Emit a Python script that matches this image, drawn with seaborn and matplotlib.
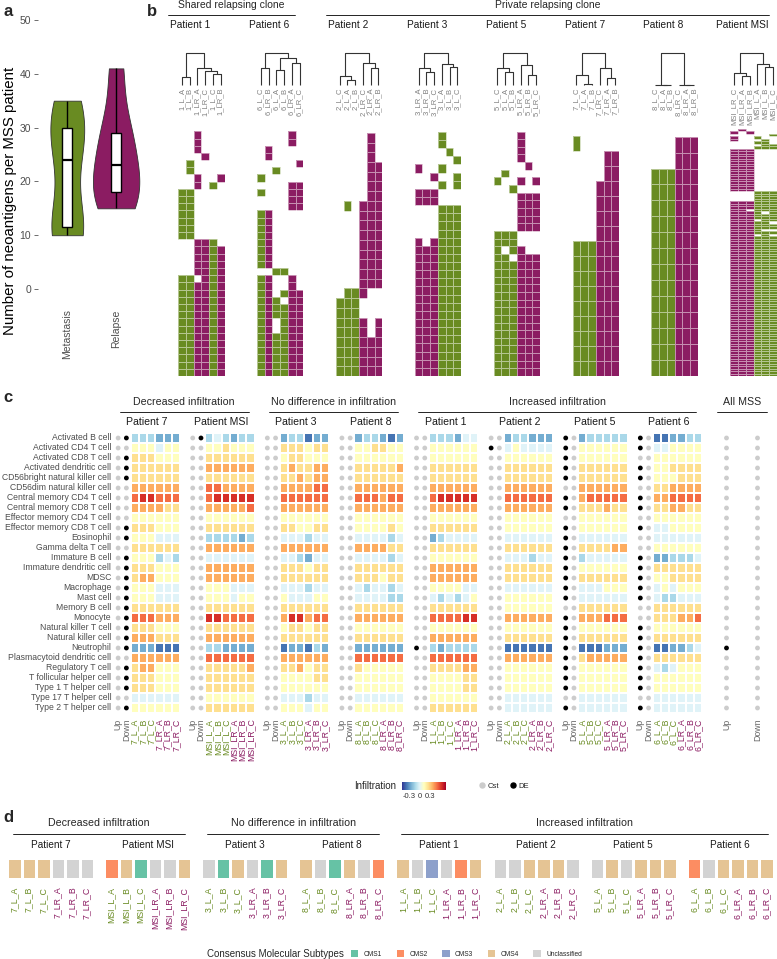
import numpy as np
import pandas as pd
import matplotlib
matplotlib.use('Agg')
import matplotlib.pyplot as plt
from matplotlib.colors import ListedColormap
from matplotlib.lines import Line2D
from matplotlib.patches import Patch
import seaborn as sns

sns.set_theme(style='white')
plt.rcParams['font.family'] = ['Liberation Sans', 'DejaVu Sans']
plt.rcParams['axes.unicode_minus'] = False

GREEN = '#698B22'
PURPLE = '#8B1C62'
GREY_TXT = '#4D4D4D'

# ---- panel a : neoantigens per MSS patient
meta_counts = [10, 10, 13, 24, 28, 32, 35]
relapse_counts = [15, 17, 19, 23, 27, 31, 41]

# ---- panel b : neoantigen presence per sample (run length: pattern, n rows)
b_groups = [('Shared relapsing clone', ['Patient 1', 'Patient 6']),
            ('Private relapsing clone', ['Patient 2', 'Patient 3', 'Patient 5',
                                         'Patient 7', 'Patient 8', 'Patient MSI'])]
b_samples = {
    'Patient 1': ['1_L_A', '1_L_B', '1_LR_A', '1_LR_C', '1_L_C', '1_LR_B'],
    'Patient 6': ['6_L_C', '6_LR_B', '6_L_A', '6_L_B', '6_LR_A', '6_LR_C'],
    'Patient 2': ['2_L_C', '2_L_A', '2_L_B', '2_LR_C', '2_LR_A', '2_LR_B'],
    'Patient 3': ['3_LR_A', '3_LR_B', '3_LR_C', '3_L_A', '3_L_B', '3_L_C'],
    'Patient 5': ['5_L_C', '5_L_A', '5_L_B', '5_LR_A', '5_LR_B', '5_LR_C'],
    'Patient 7': ['7_L_C', '7_L_A', '7_L_B', '7_LR_C', '7_LR_A', '7_LR_B'],
    'Patient 8': ['8_L_C', '8_L_A', '8_L_B', '8_LR_C', '8_LR_A', '8_LR_B'],
    'Patient MSI': ['MSI_LR_C', 'MSI_LR_A', 'MSI_LR_B', 'MSI_L_A', 'MSI_L_B', 'MSI_L_C'],
}
# dendrograms: [left, right, height], leaves are column indices
b_trees = {
    'Patient 1': [[0, 1, 0.25], [2, [3, [4, 5, 0.34], 0.44], 0.53], 1.0],
    'Patient 6': [[0, 1, 0.53], [[2, 3, 0.47], [4, 5, 0.69], 0.84], 1.0],
    'Patient 2': [[0, [1, 2, 0.16], 0.28], [3, [4, 5, 0.53], 0.68], 1.0],
    'Patient 3': [[0, [1, 2, 0.41], 0.52], [3, [4, 5, 0.57], 0.67], 1.0],
    'Patient 5': [[0, [1, 2, 0.41], 0.52], [3, [4, 5, 0.31], 0.62], 1.0],
    'Patient 7': [[0, [1, 2, 0.02], 0.31], [3, [4, 5, 0.21], 0.52], 1.0],
    'Patient 8': [[0, [1, 2, 0.0], 0.0], [3, [4, 5, 0.0], 0.0], 1.0],
    'Patient MSI': [[0, [1, 2, 0.28], 0.37], [3, [4, 5, 0.57], 0.67], 1.0],
}
b_rows = {
    'Patient 1': [('001000', 3), ('000100', 1), ('010000', 2), ('001001', 1), ('001010', 1),
                  ('110000', 7), ('001110', 1), ('001111', 4), ('110111', 1), ('111111', 13)],
    'Patient 6': [('000010', 2), ('010000', 2), ('000001', 1), ('001000', 1), ('100000', 1),
                  ('000011', 1), ('100011', 1), ('000011', 2), ('110000', 8), ('001100', 1),
                  ('110010', 2), ('110111', 1), ('111011', 1), ('111111', 2), ('110111', 2),
                  ('111111', 6)],
    'Patient 2': [('000010', 3), ('000011', 4), ('010111', 1), ('000111', 8), ('011100', 1),
                  ('111000', 2), ('111101', 2), ('111111', 4)],
    'Patient 3': [('000100', 2), ('000010', 1), ('000001', 1), ('100100', 1), ('001001', 1),
                  ('000101', 1), ('111000', 2), ('000111', 4), ('101111', 1), ('111111', 16)],
    'Patient 5': [('000100', 4), ('000010', 1), ('010000', 1), ('100101', 1), ('001000', 1),
                  ('000111', 5), ('111000', 2), ('101100', 1), ('110111', 1), ('111111', 15)],
    'Patient 7': [('100000', 1), ('000011', 2), ('000111', 4), ('111111', 9)],
    'Patient 8': [('000111', 2), ('111111', 13)],
    'Patient MSI': [('010000', 1), ('101000', 1), ('000001', 1), ('100100', 1), ('100010', 1),
                    ('000110', 1), ('000011', 1), ('000111', 1), ('111000', 17), ('000111', 4),
                    ('111111', 3), ('110111', 1), ('111101', 1), ('111111', 2), ('111011', 1),
                    ('111110', 1), ('111111', 2), ('111100', 1), ('111111', 1), ('111010', 1),
                    ('111111', 56)],
}

# ---- panel c : immune infiltration
cell_types = ['Activated B cell', 'Activated CD4 T cell', 'Activated CD8 T cell',
              'Activated dendritic cell', 'CD56bright natural killer cell',
              'CD56dim natural killer cell', 'Central memory CD4 T cell',
              'Central memory CD8 T cell', 'Effector memory CD4 T cell',
              'Effector memory CD8 T cell', 'Eosinophil', 'Gamma delta T cell',
              'Immature B cell', 'Immature dendritic cell', 'MDSC', 'Macrophage', 'Mast cell',
              'Memory B cell', 'Monocyte', 'Natural killer T cell', 'Natural killer cell',
              'Neutrophil', 'Plasmacytoid dendritic cell', 'Regulatory T cell',
              'T follicular helper cell', 'Type 1 T helper cell', 'Type 17 T helper cell',
              'Type 2 T helper cell']
c_groups = [('Decreased infiltration', ['Patient 7', 'Patient MSI']),
            ('No difference in infiltration', ['Patient 3', 'Patient 8']),
            ('Increased infiltration', ['Patient 1', 'Patient 2', 'Patient 5', 'Patient 6'])]
c_patients = ['Patient 7', 'Patient MSI', 'Patient 3', 'Patient 8',
              'Patient 1', 'Patient 2', 'Patient 5', 'Patient 6']
c_ids = ['7', 'MSI', '3', '8', '1', '2', '5', '6']
sample_suffix = ['L_A', 'L_B', 'L_C', 'LR_A', 'LR_B', 'LR_C']

# score levels: score = (level - 4) * 0.125
infil_levels = [
    '333222 343233 233122 233212 333244 233222 233333 112233',
    '555455 556555 666566 556655 555555 454444 555555 445555',
    '666555 666666 566555 555555 555555 555555 555555 555555',
    '666666 777777 676677 666667 666666 666666 666666 556666',
    '666666 666666 667677 666666 666666 666666 666666 555666',
    '777777 887777 777788 777777 777777 777777 777777 667777',
    '899888 899999 888888 888788 899999 888888 788888 778888',
    '777766 777778 777777 777777 777777 777777 666766 667766',
    '555555 555555 555555 555555 555555 555555 555555 555555',
    '666555 666666 665566 555565 666666 555555 555555 445555',
    '555444 333323 444344 444434 234444 444444 444444 444444',
    '666666 777777 777777 777766 666666 666666 666677 555555',
    '555343 444444 443244 444434 555555 444344 344444 223334',
    '666555 777777 666566 666666 777777 666666 555555 666666',
    '677555 777777 666666 666566 777777 666666 666666 556666',
    '555444 555444 444344 434434 555544 444444 444555 454555',
    '555444 555455 544455 444433 434345 555555 444444 433444',
    '666666 666666 666666 666666 666666 555555 666666 666666',
    '888777 998888 799788 777777 888899 777777 777888 666778',
    '666555 666666 566566 555555 555555 555555 555555 555555',
    '777666 777777 666666 666666 777777 666666 666666 666666',
    '222111 332222 122132 222222 323333 111111 111222 112234',
    '777777 888888 777777 888888 888888 777777 677777 666666',
    '677555 666667 667566 655555 666677 555555 555555 434555',
    '666555 666666 555566 555555 555566 555555 555555 555555',
    '666555 666666 555555 555555 555566 555555 555555 555555',
    '444444 555555 444344 444444 555555 444444 444444 444444',
    '555555 666666 555455 555555 666666 444444 444444 444444',
]
LEVEL_ZERO, LEVEL_STEP = 4, 0.125

NO_DE = '0000000000000000000000000000'
de_up = {
    'Patient 1': '0000000000000000000001000000',
    'Patient 2': '0100000000000000000000000000',
    'Patient 5': '1111101101111111101111111101',
    'Patient 6': '1101101101001111100111111101',
}
de_down = {
    'Patient 7': '1011100001101111111111011101',
    'Patient MSI': '1000000000000000000000000000',
}
all_mss_up = '0000000000000000000001000000'
all_mss_down = NO_DE

# ---- panel d : consensus molecular subtypes
cms_names = ['CMS1', 'CMS2', 'CMS3', 'CMS4', 'Unclassified']
cms_colors = ['#66C2A5', '#FC8D62', '#8DA0CB', '#E5C494', '#D3D3D3']
cms_calls = {
    'Patient 7': ['CMS4', 'CMS4', 'CMS4', 'Unclassified', 'Unclassified', 'Unclassified'],
    'Patient MSI': ['CMS2', 'CMS4', 'CMS1', 'Unclassified', 'Unclassified', 'CMS4'],
    'Patient 3': ['Unclassified', 'CMS1', 'CMS4', 'Unclassified', 'CMS1', 'CMS4'],
    'Patient 8': ['CMS4', 'Unclassified', 'CMS1', 'CMS4', 'Unclassified', 'CMS2'],
    'Patient 1': ['CMS4', 'Unclassified', 'CMS3', 'Unclassified', 'CMS2', 'CMS4'],
    'Patient 2': ['Unclassified', 'Unclassified', 'CMS4', 'CMS4', 'CMS4', 'Unclassified'],
    'Patient 5': ['Unclassified', 'CMS4', 'Unclassified', 'CMS4', 'CMS4', 'CMS4'],
    'Patient 6': ['CMS2', 'Unclassified', 'CMS4', 'CMS4', 'CMS4', 'CMS4'],
}

W, H = 777, 959
fig = plt.figure(figsize=(W / 100, H / 100), dpi=100)


def px_axes(x0, y0, w, h):
    return fig.add_axes([x0 / W, 1 - (y0 + h) / H, w / W, h / H])


def fig_text(x, y, s, **kw):
    fig.text(x / W, 1 - y / H, s, **kw)


def hline(x0, x1, y):
    fig.add_artist(Line2D([x0 / W, x1 / W], [1 - y / H, 1 - y / H],
                          transform=fig.transFigure, color='black', lw=0.6))


def sample_color(name):
    if '_LR_' in name:
        return PURPLE
    if '_L_' in name:
        return GREEN
    return '#666666'


def draw_tree(ax, node):
    if isinstance(node, int):
        return node + 0.5, 0.0
    left, right, h = node
    xl, hl = draw_tree(ax, left)
    xr, hr = draw_tree(ax, right)
    ax.plot([xl, xl, xr, xr], [hl, h, h, hr], color='#333333', lw=0.8,
            clip_on=False, solid_capstyle='butt')
    return (xl + xr) / 2, h


def clear_spines(ax):
    for s in ax.spines.values():
        s.set_visible(False)


# panel letters
for letter, x, y in [('a', 8, 12), ('b', 152, 12), ('c', 8, 397), ('d', 8, 817)]:
    fig_text(x, y, letter, fontsize=12, fontweight='bold', ha='center', va='center')

# ================= panel a
df_a = pd.DataFrame({'group': ['Metastasis'] * len(meta_counts) + ['Relapse'] * len(relapse_counts),
                     'n': meta_counts + relapse_counts})
ax = px_axes(38, 6.5, 107.4, 296)
# no hue so the "area" scaling is shared by both violins; colours set afterwards
sns.violinplot(data=df_a, x='group', y='n', color=GREEN, cut=0, inner=None,
               density_norm='area', width=0.95, bw_adjust=0.85, linewidth=0.6,
               linecolor='#333333', saturation=1, ax=ax)
for coll, col in zip(ax.collections, [GREEN, PURPLE]):
    coll.set_facecolor(col)
sns.boxplot(data=df_a, x='group', y='n', width=0.2, showfliers=False, showcaps=False,
            color='white', linecolor='black', linewidth=1, saturation=1,
            medianprops=dict(linewidth=1.6), ax=ax)
ax.set_xlim(-0.6, 1.6)
ax.set_ylim(-2.5, 52.5)
ax.set_yticks([0, 10, 20, 30, 40, 50])
ax.set_xlabel('')
ax.set_ylabel('Number of neoantigens per MSS patient', fontsize=10.8, color='black')
# label centred lower, as in the source layout
ax.yaxis.set_label_coords(-21 / 107.4, (302.5 - 201) / 296)
ax.tick_params(axis='y', length=3, width=0.5, color='#333333', labelsize=7.5,
               labelcolor=GREY_TXT, pad=2, left=True)
ax.tick_params(axis='x', length=0, labelsize=7.5, labelcolor=GREY_TXT, pad=5, rotation=90)
clear_spines(ax)

# ================= panel b
B_LEFT, B_STEP, B_W = 178, 78.9, 46.5
b_order = [p for _, ps in b_groups for p in ps]
for i, p in enumerate(b_order):
    x0 = B_LEFT + i * B_STEP
    fig_text(x0 + B_W / 2 - 11, 25, p, fontsize=7.3, ha='center', va='center', color='#1A1A1A')

    dax = px_axes(x0, 53, B_W, 32)
    draw_tree(dax, b_trees[p])
    dax.set_xlim(0, 6)
    dax.set_ylim(0, 1)
    dax.set_xticks(np.arange(6) + 0.5)
    dax.set_xticklabels(b_samples[p], rotation=90, fontsize=5.5, color='#808080')
    dax.tick_params(axis='x', length=0, pad=2)
    dax.set_yticks([])
    dax.patch.set_alpha(0)
    clear_spines(dax)

    rows = [pat for pat, n in b_rows[p] for _ in range(n)]
    kind = np.array([2 if '_LR_' in s else 1 for s in b_samples[p]])
    mat = np.array([[int(c) for c in pat] for pat in rows]) * kind
    mat = np.where(mat == 0, np.nan, mat)
    max_ = px_axes(x0, 127, B_W, 249)
    sns.heatmap(mat, ax=max_, cmap=ListedColormap([GREEN, PURPLE]), vmin=0.5, vmax=2.5,
                cbar=False, linewidths=0.5, linecolor=(1, 1, 1, 0.5),
                xticklabels=False, yticklabels=False)
    max_.set_ylim(len(rows), -0.6)

for label, ps in b_groups:
    i0, i1 = b_order.index(ps[0]), b_order.index(ps[-1])
    xa, xb = B_LEFT + i0 * B_STEP - 10, B_LEFT + i1 * B_STEP + B_W - 8
    hline(xa, xb, 15)
    fig_text((xa + xb) / 2, 5, label, fontsize=7.5, ha='center', va='center')

# ================= panel c
C_LEFT, C_STEP, C_COL, C_TOP, C_ROW = 114, 74.6, 8.25, 433, 10
levels = np.array([[[int(c) for c in grp] for grp in row.split()] for row in infil_levels])
scores = (levels - LEVEL_ZERO) * LEVEL_STEP
heat_mesh = None
y_rows = np.arange(len(cell_types)) + 0.5


def de_dots(ax, x, flags):
    ax.scatter(np.full(len(flags), x), y_rows, s=12, linewidths=0, zorder=3, clip_on=False,
               c=['black' if f == '1' else '#CCCCCC' for f in flags])


for i, (p, pid) in enumerate(zip(c_patients, c_ids)):
    x0 = C_LEFT + i * C_STEP
    ax = px_axes(x0, C_TOP, 8 * C_COL, len(cell_types) * C_ROW)
    samples = [f'{pid}_{s}' for s in sample_suffix]
    df = pd.DataFrame(scores[:, i, :], index=cell_types, columns=samples)
    df.insert(0, 'Down', np.nan)
    df.insert(0, 'Up', np.nan)
    sns.heatmap(df, ax=ax, cmap='RdYlBu_r', vmin=-0.5, vmax=0.75, cbar=False,
                linewidths=0.3, linecolor='white', xticklabels=True, yticklabels=(i == 0))
    if heat_mesh is None:
        heat_mesh = ax.collections[0]
    de_dots(ax, 0.5, de_up.get(p, NO_DE))
    de_dots(ax, 1.5, de_down.get(p, NO_DE))
    ax.tick_params(axis='x', length=0, pad=4, labelsize=6.3, rotation=90)
    ax.tick_params(axis='y', length=0, pad=2, labelsize=6.2, labelcolor=GREY_TXT, rotation=0)
    for lab in ax.get_xticklabels():
        lab.set_color(sample_color(lab.get_text()))
    fig_text(x0 + 4 * C_COL, 422, p, fontsize=7.6, ha='center', va='center', color='#1A1A1A')

for label, ps in c_groups:
    i0, i1 = c_patients.index(ps[0]), c_patients.index(ps[-1])
    xa, xb = C_LEFT + i0 * C_STEP + 6, C_LEFT + i1 * C_STEP + 8 * C_COL - 6
    hline(xa, xb, 412)
    fig_text((xa + xb) / 2, 402, label, fontsize=7.7, ha='center', va='center')

ax = px_axes(711, C_TOP, 62, len(cell_types) * C_ROW)
de_dots(ax, 0.5, all_mss_up)
de_dots(ax, 1.5, all_mss_down)
ax.set_xlim(0, 2)
ax.set_ylim(len(cell_types), 0)
ax.set_xticks([0.5, 1.5])
ax.set_xticklabels(['Up', 'Down'], rotation=90)
ax.set_yticks([])
ax.tick_params(axis='x', length=0, pad=4, labelsize=6.3, labelcolor='#666666')
clear_spines(ax)
hline(717, 767, 412)
fig_text(742, 402, 'All MSS', fontsize=7.7, ha='center', va='center')

# legends of panel c
cax = px_axes(402, 782, 44, 8)
cb = fig.colorbar(heat_mesh, cax=cax, orientation='horizontal', ticks=[-0.3, 0, 0.3])
cb.outline.set_visible(False)
cb.set_ticklabels(['-0.3', '0', '0.3'])
cax.tick_params(length=0, labelsize=5.5, pad=2, labelcolor='#333333')
fig_text(396, 786, 'Infiltration', fontsize=7, ha='right', va='center')
dot_handles = [Line2D([], [], ls='', marker='o', markersize=3.6, color='#CCCCCC'),
               Line2D([], [], ls='', marker='o', markersize=3.6, color='black')]
fig.legend(dot_handles, ['Cst', 'DE'], loc='center left', bbox_to_anchor=(478 / W, 1 - 786 / H),
           ncol=2, frameon=False, fontsize=5.5, handletextpad=0.2, columnspacing=1.4,
           handlelength=1.0, borderpad=0, borderaxespad=0)

# ================= panel d
D_LEFT, D_STEP, D_W, D_TOP, D_H = 7, 97.1, 87, 858, 21
cms_cmap = ListedColormap(cms_colors)
for i, (p, pid) in enumerate(zip(c_patients, c_ids)):
    x0 = D_LEFT + i * D_STEP
    ax = px_axes(x0, D_TOP, D_W, D_H)
    samples = [f'{pid}_{s}' for s in sample_suffix]
    codes = pd.DataFrame([[cms_names.index(c) for c in cms_calls[p]]], columns=samples)
    sns.heatmap(codes, ax=ax, cmap=cms_cmap, vmin=-0.5, vmax=len(cms_names) - 0.5, cbar=False,
                linewidths=1, linecolor='white', xticklabels=True, yticklabels=False)
    ax.tick_params(axis='x', length=0, pad=5.5, labelsize=6.3, rotation=90)
    for lab in ax.get_xticklabels():
        lab.set_color(sample_color(lab.get_text()))
    fig_text(x0 + D_W / 2, 845, p, fontsize=7.2, ha='center', va='center', color='#1A1A1A')

for label, ps in c_groups:
    i0, i1 = c_patients.index(ps[0]), c_patients.index(ps[-1])
    xa, xb = D_LEFT + i0 * D_STEP + 6, D_LEFT + i1 * D_STEP + D_W - 6
    hline(xa, xb, 834)
    fig_text((xa + xb) / 2, 823, label, fontsize=7.7, ha='center', va='center')

fig_text(207, 954, 'Consensus Molecular Subtypes', fontsize=7, ha='left', va='center')
cms_handles = [Patch(facecolor=c, edgecolor='none') for c in cms_colors]
fig.legend(cms_handles, cms_names, loc='center left', bbox_to_anchor=(351 / W, 1 - 954 / H),
           ncol=5, frameon=False, fontsize=4.8, handletextpad=0.8, columnspacing=2.2,
           handlelength=1.1, handleheight=1.1, borderpad=0, borderaxespad=0)

fig.savefig('out.png', dpi=100)
